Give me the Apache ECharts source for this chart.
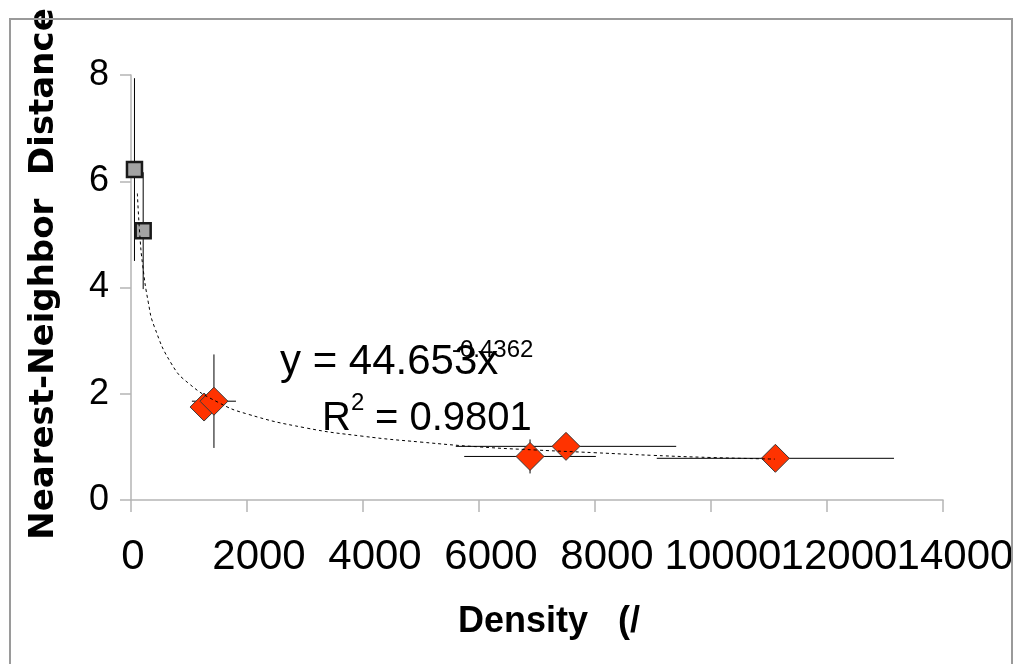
<!DOCTYPE html>
<html>
<head>
<meta charset="utf-8">
<script src="https://cdn.jsdelivr.net/npm/echarts/dist/echarts.min.js"></script>
<style>
  html, body { margin: 0; padding: 0; background: #fff; }
  #chart { width: 1021px; height: 664px; }
</style>
</head>
<body>
<div id="chart"></div>
<script>
// grey squares (low density sites)
const squareX = [60, 210];
const squareY = [6.22, 5.07];
const squareXErr = [0, 0];
const squareYErr = [1.72, 1.1];

// red diamonds
const diamondX = [1260, 1430, 6880, 7500, 11110];
const diamondY = [1.75, 1.86, 0.82, 1.01, 0.785];
const diamondXErr = [0, 380, 1135, 1900, 2045];
const diamondYErr = [0, 0.88, 0.32, 0, 0];

// power trendline
const trendX = [110, 150, 200, 300, 400, 700, 1000, 1500, 2000, 3000, 4000, 5000, 6000, 7000, 8000, 9000, 10000, 11100];
const trendY = [5.77, 5.02, 4.43, 3.71, 3.27, 2.56, 2.19, 1.84, 1.62, 1.36, 1.2, 1.09, 1.0, 0.94, 0.89, 0.84, 0.8, 0.77];

const xTicks = [0, 2000, 4000, 6000, 8000, 10000, 12000, 14000];
const yTicks = [0, 2, 4, 6, 8];

const chart = echarts.init(document.getElementById("chart"));

const zip = (xs, ys) => xs.map((x, i) => [x, ys[i]]);

const errorBars = (xs, ys, xe, ye) => ({
  type: "custom",
  z: 1,
  silent: true,
  data: xs.map((x, i) => [x, ys[i], xe[i], ye[i]]),
  renderItem: (params, api) => {
    const x = api.value(0), y = api.value(1);
    const dx = api.value(2), dy = api.value(3);
    const children = [];
    const seg = (p, q) => ({
      type: "line",
      shape: { x1: p[0], y1: p[1], x2: q[0], y2: q[1] },
      style: { stroke: "#000", lineWidth: 1 }
    });
    if (dy > 0) children.push(seg(api.coord([x, y - dy]), api.coord([x, y + dy])));
    if (dx > 0) children.push(seg(api.coord([x - dx, y]), api.coord([x + dx, y])));
    return { type: "group", children };
  }
});

const labelFont = "Liberation Sans";
const axisGrey = "#b5b5b5";

// the long tick labels overlap each other, so they are split over two
// coincident x axes (even and odd ticks) to stop echarts hiding any of them
const xLabel = (even) => ({
  margin: 36,
  showMinLabel: true,
  showMaxLabel: true,
  formatter: (v) => {
    const i = xTicks.indexOf(v);
    if (i < 0 || (i % 2 === 0) !== even) return "";
    return v === 0 ? "{z|0}" : "{n|" + v + "}";
  },
  rich: {
    z: { fontFamily: labelFont, fontSize: 42, color: "#000", padding: [0, 0, 0, 4] },
    n: { fontFamily: labelFont, fontSize: 42, color: "#000", padding: [0, 0, 0, 24] }
  }
});

const xBase = {
  type: "value",
  min: xTicks[0],
  max: xTicks[xTicks.length - 1],
  interval: 2000,
  position: "bottom",
  splitLine: { show: false }
};

const option = {
  animation: false,
  backgroundColor: "#fff",
  grid: { left: 131, right: 78, top: 75, bottom: 164 },
  xAxis: [
    {
      ...xBase,
      name: "Density   (/",
      nameLocation: "middle",
      nameGap: 104,
      nameTextStyle: {
        fontFamily: labelFont, fontWeight: "bold", fontSize: 36, color: "#000",
        padding: [0, 0, 0, 24]
      },
      axisLine: { lineStyle: { color: axisGrey, width: 1.5 } },
      axisTick: { length: 12, lineStyle: { color: axisGrey, width: 1.5 } },
      axisLabel: xLabel(true)
    },
    {
      ...xBase,
      axisLine: { show: false },
      axisTick: { show: false },
      axisLabel: xLabel(false)
    }
  ],
  yAxis: {
    type: "value",
    min: yTicks[0],
    max: yTicks[yTicks.length - 1],
    interval: 2,
    name: "Nearest-Neighbor  Distance",
    nameLocation: "middle",
    nameGap: 70,
    nameTextStyle: {
      fontFamily: "DejaVu Sans", fontWeight: "bold", fontSize: 34, color: "#000",
      padding: [0, 0, 0, 27]
    },
    splitLine: { show: false },
    axisLine: { show: true, lineStyle: { color: axisGrey, width: 1.5 } },
    axisTick: { show: true, length: 11, lineStyle: { color: axisGrey, width: 1.5 } },
    axisLabel: { margin: 22, fontFamily: labelFont, fontSize: 36, color: "#000" }
  },
  graphic: [
    {
      type: "rect", z: 100, silent: true,
      shape: { x: 10, y: 19, width: 1002, height: 700 },
      style: { fill: "none", stroke: "#9a9a9a", lineWidth: 2 }
    },
    {
      type: "text", x: 280, y: 362, z: 50,
      style: { text: "y = 44.653x", font: "42px 'Liberation Sans'", fill: "#000", verticalAlign: "middle" }
    },
    {
      type: "text", x: 452, y: 350, z: 50,
      style: { text: "-0.4362", font: "24px 'Liberation Sans'", fill: "#000", verticalAlign: "middle" }
    },
    {
      type: "text", x: 322, y: 419, z: 50,
      style: { text: "R", font: "40px 'Liberation Sans'", fill: "#000", verticalAlign: "middle" }
    },
    {
      type: "text", x: 351, y: 403, z: 50,
      style: { text: "2", font: "24px 'Liberation Sans'", fill: "#000", verticalAlign: "middle" }
    },
    {
      type: "text", x: 375, y: 419, z: 50,
      style: { text: "= 0.9801", font: "40px 'Liberation Sans'", fill: "#000", verticalAlign: "middle" }
    }
  ],
  series: [
    errorBars(squareX, squareY, squareXErr, squareYErr),
    errorBars(diamondX, diamondY, diamondXErr, diamondYErr),
    {
      type: "scatter",
      z: 2,
      symbol: "rect",
      symbolSize: 15,
      itemStyle: { color: "#a3a3a3", borderColor: "#1a1a1a", borderWidth: 2.5, opacity: 1 },
      data: zip(squareX, squareY)
    },
    {
      type: "scatter",
      z: 2,
      symbol: "diamond",
      symbolSize: [28, 28],
      itemStyle: { color: "#ff3300", borderColor: "#3a3a3a", borderWidth: 1, opacity: 1 },
      data: zip(diamondX, diamondY)
    },
    {
      type: "line",
      z: 3,
      smooth: true,
      symbol: "none",
      lineStyle: { color: "#000", width: 1, type: [3, 3] },
      data: zip(trendX, trendY)
    }
  ]
};

chart.setOption(option);
</script>
</body>
</html>
